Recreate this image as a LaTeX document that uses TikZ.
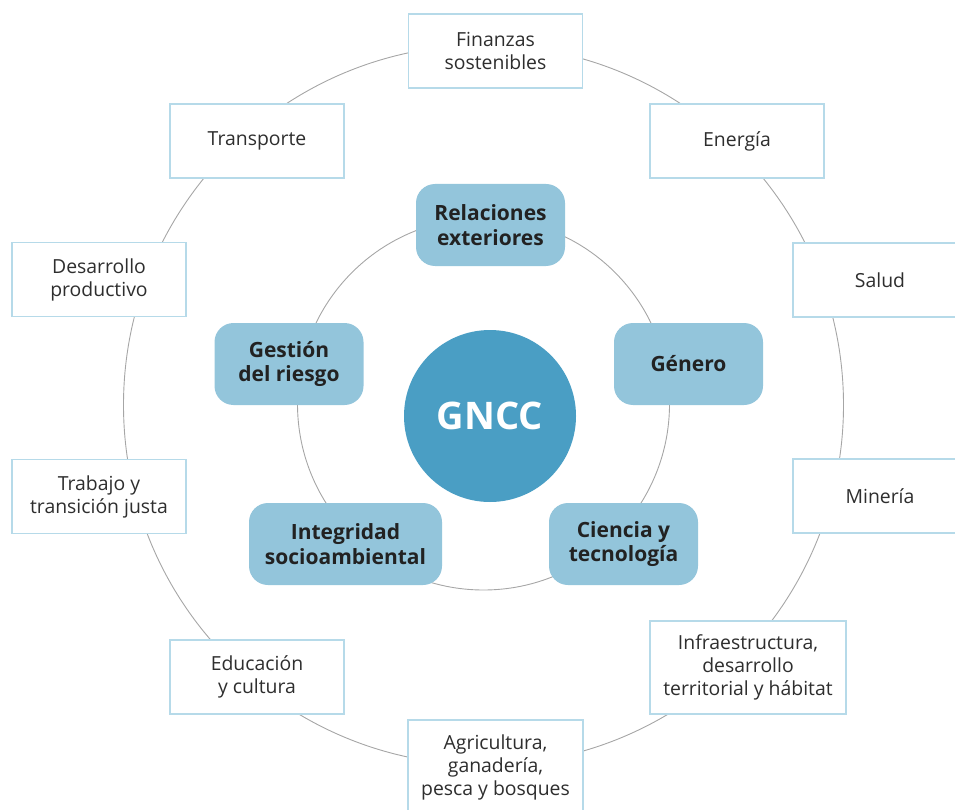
\documentclass[tikz,border=0pt]{standalone}
\usepackage{fontspec}
\setmainfont{Open Sans}
\definecolor{ringgray}{HTML}{A6A6A6}
\definecolor{outerborder}{HTML}{B6DAE9}
\definecolor{innerfill}{HTML}{93C5DB}
\definecolor{corefill}{HTML}{4A9EC4}
\definecolor{txt}{HTML}{2E2E2E}
\definecolor{txtb}{HTML}{222222}
\tikzset{
  ring/.style={draw=ringgray, line width=0.9pt},
  outerbox/.style={draw=outerborder, line width=1.8pt, fill=white, rectangle,
    minimum width=174pt, minimum height=74pt, align=center, text=txt, inner sep=0pt,
    font=\fontsize{19.4}{23}\selectfont},
  innerbox/.style={fill=innerfill, rectangle, rounded corners=19pt,
    minimum width=149pt, minimum height=82pt, align=center, text=txtb, inner sep=0pt,
    font=\fontsize{21}{24.5}\selectfont\bfseries},
  corecircle/.style={circle, fill=corefill, minimum size=172pt, inner sep=0pt,
    text=white, font=\fontsize{38}{40}\selectfont\bfseries}
}
\begin{document}
\begin{tikzpicture}[x=1pt,y=-1pt]
\useasboundingbox (0,0) rectangle (955,810);
\clip (0,0) rectangle (955,810);
% rings
\draw[ring] (483.5,405) circle[radius=360];
\draw[ring] (483.5,404) circle[radius=186];
% outer boxes
\node[outerbox] (fin) at (495.5,51) {Finanzas\\sostenibles};
\node[outerbox] (ene) at (737,141) {Energía};
\node[outerbox] (sal) at (880,280) {Salud};
\node[outerbox] (min) at (880,496) {Minería};
\node[outerbox, minimum width=196pt, minimum height=93pt] (inf) at (748,667.5) {Infraestructura,\\desarrollo\\territorial y hábitat};
\node[outerbox, minimum width=175pt, minimum height=94pt] (agr) at (495.5,767) {Agricultura,\\ganadería,\\pesca y bosques};
\node[outerbox] (edu) at (257,677) {Educación\\y cultura};
\node[outerbox] (tra) at (99,496.5) {Trabajo y\\transición justa};
\node[outerbox] (des) at (99,279.5) {Desarrollo\\productivo};
\node[outerbox] (trn) at (257,141) {Transporte};
% inner boxes
\node[innerbox] (rel) at (490.5,225) {Relaciones\\exteriores};
\node[innerbox] (gen) at (688.5,364) {Género};
\node[innerbox] (cie) at (623.5,544) {Ciencia y\\tecnología};
\node[innerbox, minimum width=193pt] (int) at (345.5,544) {Integridad\\socioambiental};
\node[innerbox] (ges) at (289,364) {Gestión\\del riesgo};
% core
\node[corecircle] (core) at (490,416) {GNCC};
\end{tikzpicture}
\end{document}
